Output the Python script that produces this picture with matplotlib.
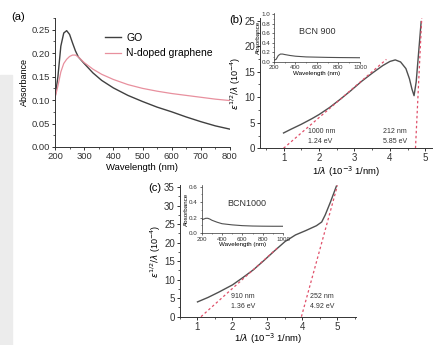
import matplotlib
matplotlib.use("Agg")
import matplotlib.pyplot as plt
from matplotlib.ticker import MultipleLocator
from matplotlib.patches import Rectangle

plt.rcParams['font.family'] = ['Liberation Sans', 'DejaVu Sans']
plt.rcParams['font.size'] = 6.5

# ---- (a) UV-vis absorbance ----
wl_a = [200, 210, 220, 230, 240, 250, 260, 270, 280, 300, 330, 360, 400, 450, 500, 550, 600, 650, 700, 750, 800]
go_abs = [0.105, 0.150, 0.215, 0.243, 0.248, 0.240, 0.222, 0.205, 0.192, 0.178, 0.158, 0.142, 0.126, 0.110, 0.097, 0.085, 0.075, 0.064, 0.054, 0.045, 0.038]
ng_abs = [0.105, 0.130, 0.160, 0.178, 0.187, 0.193, 0.196, 0.196, 0.192, 0.180, 0.166, 0.155, 0.144, 0.133, 0.125, 0.119, 0.114, 0.110, 0.106, 0.102, 0.099]

# ---- (b) BCN 900 ----
b_x = [1.0, 1.2, 1.5, 1.8, 2.0, 2.3, 2.6, 2.9, 3.2, 3.5, 3.8, 4.0, 4.15, 4.3, 4.45, 4.55, 4.62, 4.68, 4.74, 4.8, 4.88]
b_y = [3.0, 3.7, 4.7, 5.8, 6.6, 8.0, 9.6, 11.3, 13.1, 14.7, 16.2, 17.0, 17.3, 16.9, 15.6, 13.6, 11.6, 10.3, 13.0, 18.0, 24.8]
b_fit1_x = [1.0, 3.9]
b_fit1_y = [0.0, 17.4]
b_fit2_x = [4.72, 4.90]
b_fit2_y = [0.0, 26.0]
b_ins_wl = [200, 220, 240, 260, 280, 300, 350, 400, 500, 600, 700, 800, 900, 1000]
b_ins_abs = [0.03, 0.05, 0.13, 0.16, 0.16, 0.15, 0.13, 0.115, 0.10, 0.095, 0.09, 0.087, 0.085, 0.083]

# ---- (c) BCN1000 ----
c_x = [1.0, 1.3, 1.6, 2.0, 2.3, 2.6, 2.9, 3.2, 3.5, 3.8, 4.1, 4.4, 4.55, 4.65, 4.8, 4.97]
c_y = [4.0, 5.2, 6.6, 8.6, 10.6, 12.7, 15.2, 17.8, 20.3, 22.1, 23.3, 24.6, 25.6, 27.5, 31.0, 35.3]
c_fit1_x = [1.10, 3.3]
c_fit1_y = [0.0, 18.7]
c_fit2_x = [3.97, 5.0]
c_fit2_y = [0.0, 35.5]
c_ins_wl = [200, 220, 240, 260, 280, 300, 350, 400, 500, 600, 700, 800, 900, 1000]
c_ins_abs = [0.17, 0.18, 0.19, 0.19, 0.18, 0.165, 0.14, 0.12, 0.105, 0.095, 0.09, 0.088, 0.087, 0.087]

curve_col = '#505050'
red_col = '#e0506a'
pink_col = '#e8909e'

fig = plt.figure(figsize=(4.35, 3.45), dpi=100)

# faint grey backdrop strip at the left edge
fig.patches.append(Rectangle((0, 0), 12 / 435, 1 - 75 / 345, transform=fig.transFigure,
                             color='#ececec', zorder=-5))


def style(ax, fs=6.5, lw=0.7, tl=2.5):
    for s in ('top', 'right'):
        ax.spines[s].set_visible(False)
    for s in ('left', 'bottom'):
        ax.spines[s].set_linewidth(lw)
        ax.spines[s].set_color('#333333')
    ax.tick_params(which='major', direction='out', length=tl, width=lw, labelsize=fs,
                   colors='#333333', pad=1.2)
    ax.tick_params(which='minor', direction='out', length=tl * 0.6, width=lw * 0.8,
                   colors='#333333')


# (a)
ax_a = fig.add_axes([55 / 435, 1 - 147 / 345, 175 / 435, 129 / 345])
ax_a.plot(wl_a, go_abs, color='#404040', lw=1.0, label='GO')
ax_a.plot(wl_a, ng_abs, color=pink_col, lw=0.9, label='N-doped graphene')
ax_a.set_xlim(200, 800)
ax_a.set_ylim(0, 0.275)
ax_a.xaxis.set_major_locator(MultipleLocator(100))
ax_a.xaxis.set_minor_locator(MultipleLocator(50))
ax_a.yaxis.set_major_locator(MultipleLocator(0.05))
ax_a.yaxis.set_minor_locator(MultipleLocator(0.025))
ax_a.yaxis.set_major_formatter(lambda v, p: f'{v:.2f}')
style(ax_a, fs=6.8)
ax_a.set_xlabel('Wavelength (nm)', fontsize=6.8, labelpad=1.5)
ax_a.set_ylabel('Absorbance', fontsize=6.5, labelpad=2)
ax_a.legend(loc='upper left', bbox_to_anchor=(0.23, 0.96), frameon=False, fontsize=7.5,
            handlelength=1.6, handletextpad=0.5, labelspacing=0.55)
fig.text(11 / 435, 1 - 17 / 345, '(a)', fontsize=8, va='center', ha='left')

# (b)
ax_b = fig.add_axes([260.5 / 435, 1 - 148.3 / 345, 172 / 435, 130.3 / 345])
ax_b.plot(b_x, b_y, color=curve_col, lw=1.0)
ax_b.plot(b_fit1_x, b_fit1_y, color=red_col, lw=0.9, ls=(0, (2, 2)))
ax_b.plot(b_fit2_x, b_fit2_y, color=red_col, lw=0.9, ls=(0, (2, 2)))
ax_b.set_xlim(0.35, 5.2)
ax_b.set_ylim(0, 25.5)
ax_b.xaxis.set_major_locator(MultipleLocator(1))
ax_b.xaxis.set_minor_locator(MultipleLocator(0.5))
ax_b.yaxis.set_major_locator(MultipleLocator(5))
ax_b.yaxis.set_minor_locator(MultipleLocator(2.5))
style(ax_b, fs=7)
ax_b.set_xlabel(r'1/$\lambda$ (10$^{-3}$ 1/nm)', fontsize=6.8, labelpad=0.5)
ax_b.set_ylabel(r'$\varepsilon^{1/2}/\lambda$ (10$^{-4}$)', fontsize=6.5, labelpad=1)
ax_b.text(1.7, 3.2, '1000 nm', fontsize=5, va='center', color='#333333')
ax_b.text(1.7, 1.4, '1.24 eV', fontsize=5, va='center', color='#333333')
ax_b.text(3.8, 3.2, '212 nm', fontsize=5, va='center', color='#333333')
ax_b.text(3.8, 1.4, '5.85 eV', fontsize=5, va='center', color='#333333')
fig.text(229 / 435, 1 - 20 / 345, '(b)', fontsize=8, va='center', ha='left')

ax_bi = fig.add_axes([274 / 435, 1 - 61.7 / 345, 86 / 435, 48.7 / 345])
ax_bi.plot(b_ins_wl, b_ins_abs, color=curve_col, lw=0.8)
ax_bi.set_xlim(200, 1000)
ax_bi.set_ylim(0, 1.02)
ax_bi.xaxis.set_major_locator(MultipleLocator(200))
ax_bi.xaxis.set_minor_locator(MultipleLocator(100))
ax_bi.yaxis.set_major_locator(MultipleLocator(0.2))
ax_bi.yaxis.set_minor_locator(MultipleLocator(0.1))
ax_bi.patch.set_alpha(0)
style(ax_bi, fs=4.5, lw=0.5, tl=1.5)
ax_bi.set_xlabel('Wavelength (nm)', fontsize=4.5, labelpad=0.5)
ax_bi.set_ylabel('Absorbance', fontsize=4.5, labelpad=0.5)
ax_bi.text(0.5, 0.62, 'BCN 900', transform=ax_bi.transAxes, fontsize=6.5, ha='center',
           va='center', color='#333333')

# (c)
ax_c = fig.add_axes([180 / 435, 1 - 316.7 / 345, 176 / 435, 131.7 / 345])
ax_c.plot(c_x, c_y, color=curve_col, lw=1.0)
ax_c.plot(c_fit1_x, c_fit1_y, color=red_col, lw=0.9, ls=(0, (2, 2)))
ax_c.plot(c_fit2_x, c_fit2_y, color=red_col, lw=0.9, ls=(0, (2, 2)))
ax_c.set_xlim(0.5, 5.53)
ax_c.set_ylim(0, 35.6)
ax_c.xaxis.set_major_locator(MultipleLocator(1))
ax_c.xaxis.set_minor_locator(MultipleLocator(0.5))
ax_c.yaxis.set_major_locator(MultipleLocator(5))
ax_c.yaxis.set_minor_locator(MultipleLocator(2.5))
style(ax_c, fs=7)
ax_c.set_xlabel(r'1/$\lambda$ (10$^{-3}$ 1/nm)', fontsize=6.8, labelpad=0)
ax_c.set_ylabel(r'$\varepsilon^{1/2}/\lambda$ (10$^{-4}$)', fontsize=6.5, labelpad=1)
ax_c.text(1.95, 5.4, '910 nm', fontsize=5, va='center', color='#333333')
ax_c.text(1.95, 2.7, '1.36 eV', fontsize=5, va='center', color='#333333')
ax_c.text(4.22, 5.4, '252 nm', fontsize=5, va='center', color='#333333')
ax_c.text(4.22, 2.7, '4.92 eV', fontsize=5, va='center', color='#333333')
fig.text(148 / 435, 1 - 188 / 345, '(c)', fontsize=8, va='center', ha='left')

ax_ci = fig.add_axes([201.7 / 435, 1 - 233 / 345, 81.3 / 435, 48 / 345])
ax_ci.plot(c_ins_wl, c_ins_abs, color=curve_col, lw=0.8)
ax_ci.set_xlim(200, 1000)
ax_ci.set_ylim(0, 0.62)
ax_ci.xaxis.set_major_locator(MultipleLocator(200))
ax_ci.xaxis.set_minor_locator(MultipleLocator(100))
ax_ci.yaxis.set_major_locator(MultipleLocator(0.2))
ax_ci.yaxis.set_minor_locator(MultipleLocator(0.1))
ax_ci.patch.set_alpha(0)
style(ax_ci, fs=4.5, lw=0.5, tl=1.5)
ax_ci.set_xlabel('Wavelength (nm)', fontsize=4.5, labelpad=0.5)
ax_ci.set_ylabel('Absorbance', fontsize=4.5, labelpad=0.5)
ax_ci.text(0.55, 0.62, 'BCN1000', transform=ax_ci.transAxes, fontsize=6.5, ha='center',
           va='center', color='#333333')

fig.savefig('out.png', dpi=100)
